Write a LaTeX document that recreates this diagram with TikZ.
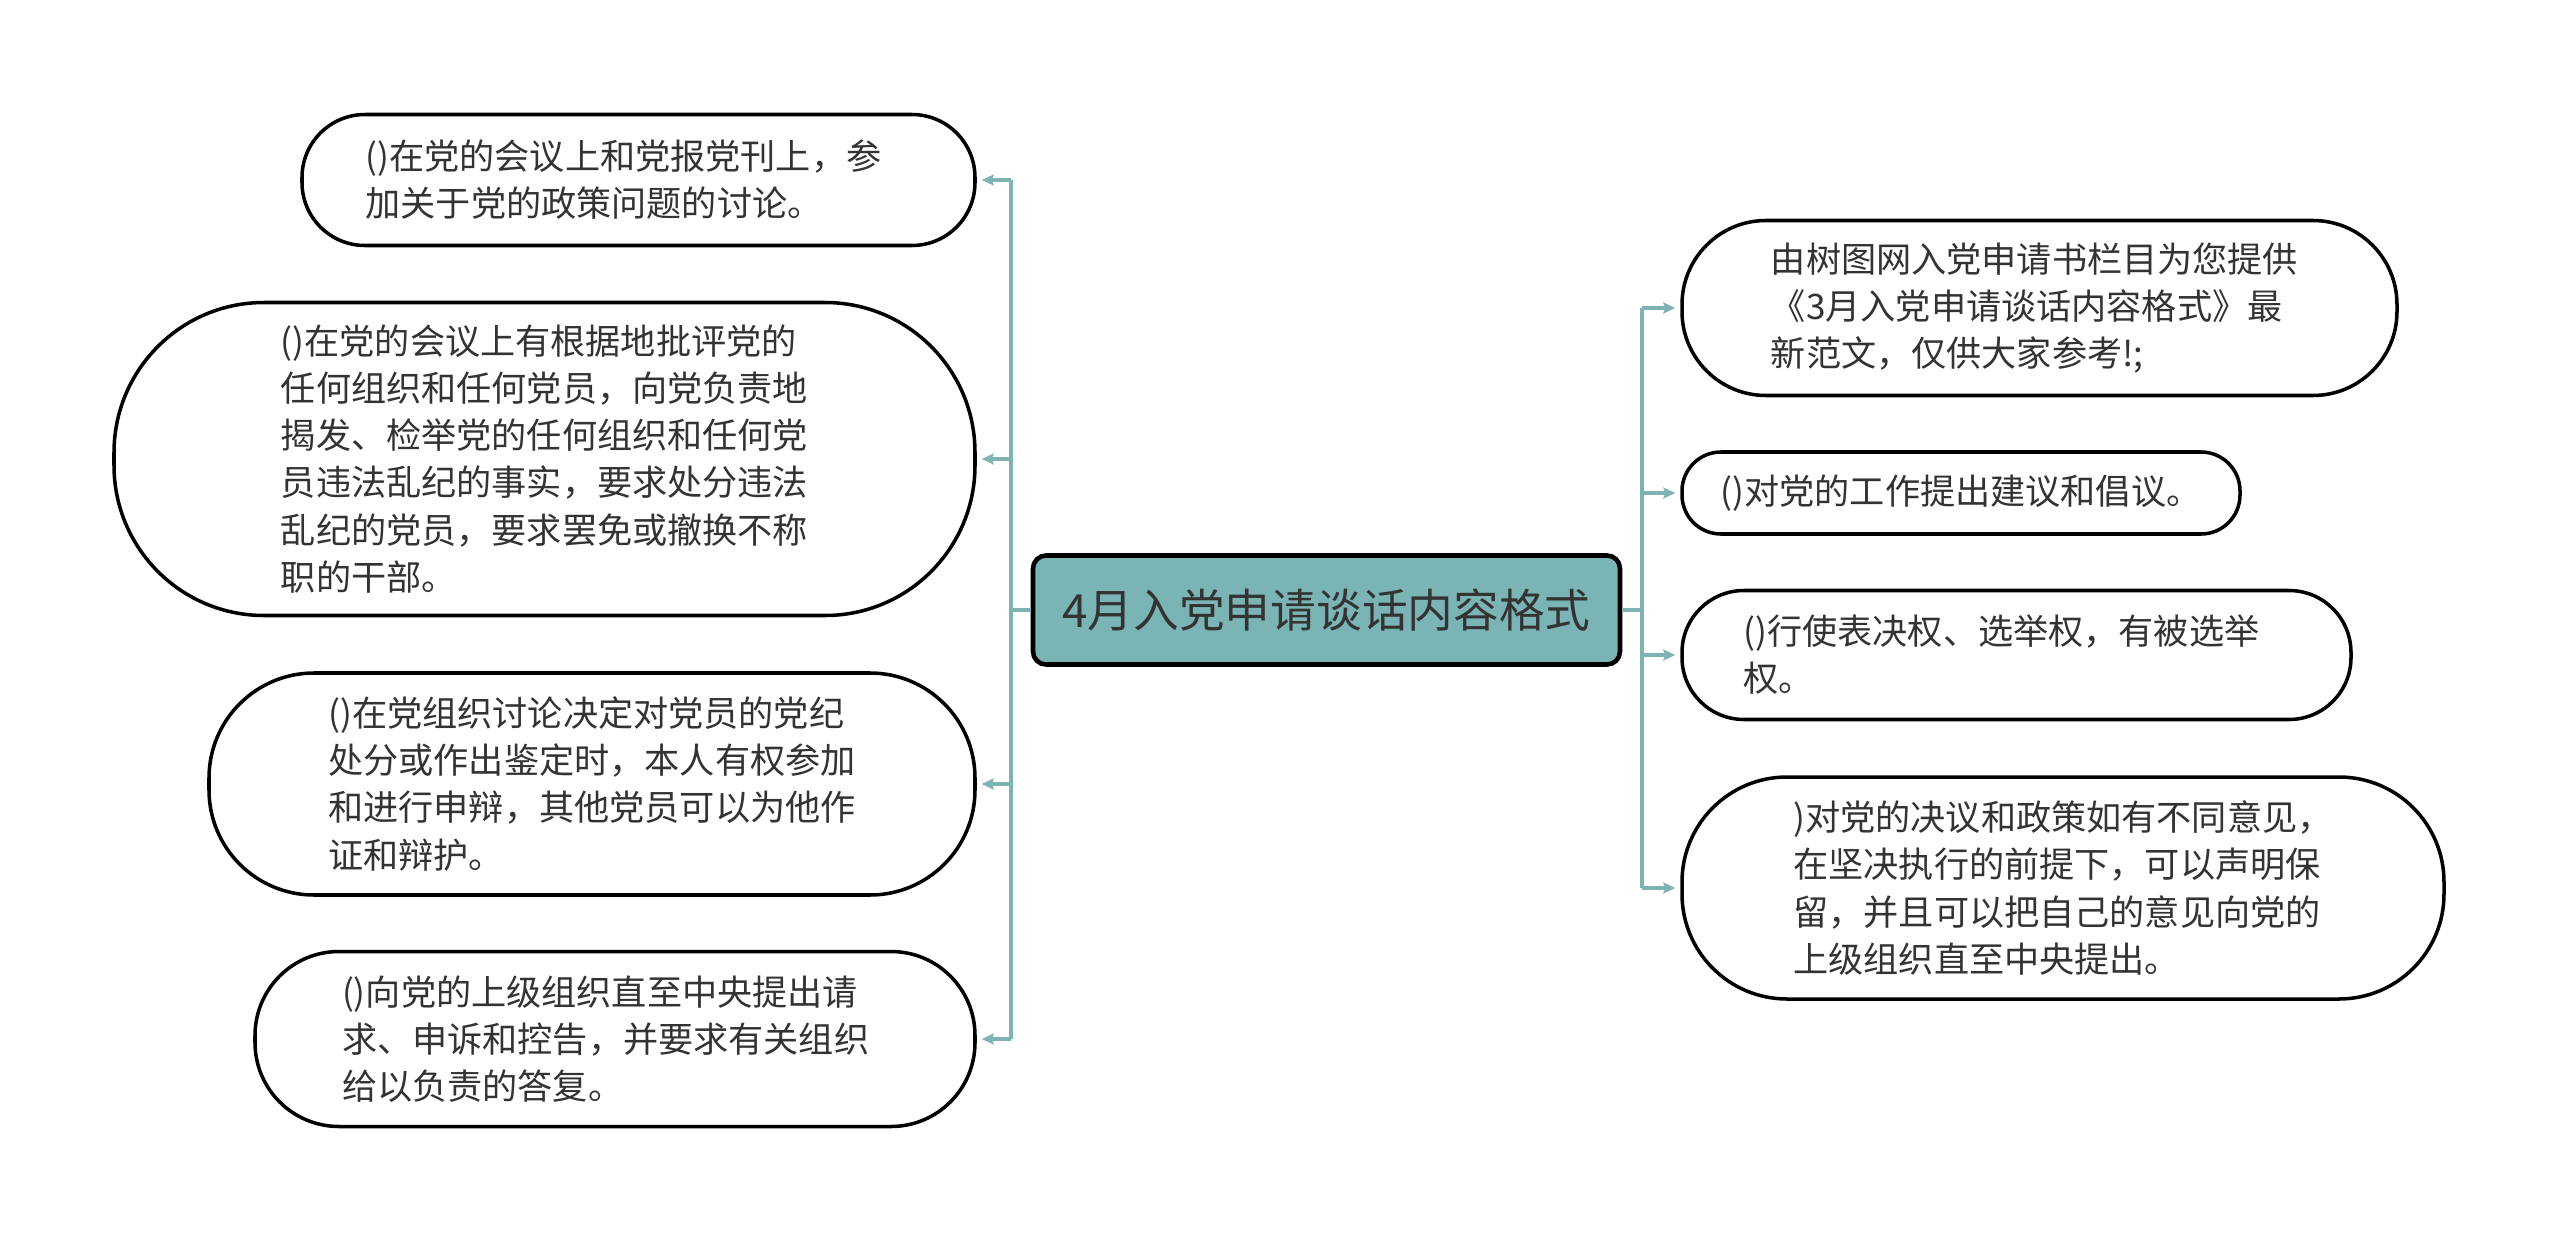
\documentclass[tikz,border=0pt]{standalone}
\usepackage{fontspec}
\newfontfamily\cjk{Noto Sans CJK SC}
\usepackage{tikz}
\usetikzlibrary{arrows.meta}
\definecolor{linkteal}{HTML}{7FB2B3}
\definecolor{topicfill}{HTML}{7AB4B5}
\definecolor{inktext}{HTML}{333333}

\begin{document}
\begin{tikzpicture}[x=0.1mm, y=-0.1mm,
    leaf/.style={draw=black, line width=1pt, fill=white, align=left, text=inktext,
        font=\cjk\fontsize{10pt}{13.4pt}\selectfont, inner sep=0pt},
    topic/.style={draw=black, line width=1.3pt, fill=topicfill, rounded corners=1.3mm,
        text=inktext, font=\cjk\fontsize{13pt}{15pt}\selectfont,
        minimum width=58.7mm, minimum height=10.9mm, inner sep=0pt},
    link/.style={draw=linkteal, line width=1.1pt},
    arrowlink/.style={link, -{Stealth[length=1.2mm,width=1.1mm,inset=0.2mm]}, shorten >=0.5mm}]
    \useasboundingbox (0,0) rectangle (2560,1243);

    % central topic
    \node[topic] (main) at (1326.5, 610) {4月入党申请谈话内容格式};
    \coordinate (trunkL) at (1011, 610);
    \coordinate (trunkR) at (1642, 610);

    % left side
    \node[leaf, minimum width=67.3mm, minimum height=13.1mm, rounded corners=6.3mm] (l1) at (638.5, 180)
        {()在党的会议上和党报党刊上，参\hspace*{3mm}\\加关于党的政策问题的讨论。};
    \node[leaf, minimum width=86.1mm, minimum height=31.3mm, rounded corners=15mm] (l2) at (544.5, 459)
        {()在党的会议上有根据地批评党的\\任何组织和任何党员，向党负责地\hspace*{1mm}\\揭发、检举党的任何组织和任何党\\员违法乱纪的事实，要求处分违法\\乱纪的党员，要求罢免或撤换不称\\职的干部。};
    \node[leaf, minimum width=76.6mm, minimum height=22.2mm, rounded corners=10.5mm] (l3) at (592, 784)
        {()在党组织讨论决定对党员的党纪\\处分或作出鉴定时，本人有权参加\hspace*{3mm}\\和进行申辩，其他党员可以为他作\\证和辩护。};
    \node[leaf, minimum width=72mm, minimum height=17.5mm, rounded corners=8.4mm] (l4) at (615, 1039)
        {()向党的上级组织直至中央提出请\hspace*{3mm}\\求、申诉和控告，并要求有关组织\\给以负责的答复。};

    % right side
    \node[leaf, minimum width=71.5mm, minimum height=17.5mm, rounded corners=8.4mm] (r1) at (2039.5, 308)
        {由树图网入党申请书栏目为您提供\hspace*{1mm}\\《3月入党申请谈话内容格式》最\\新范文，仅供大家参考!;};
    \node[leaf, minimum width=55.8mm, minimum height=8.2mm, rounded corners=3.9mm] (r2) at (1961, 493)
        {()对党的工作提出建议和倡议。};
    \node[leaf, minimum width=66.9mm, minimum height=12.9mm, rounded corners=6.2mm] (r3) at (2016.5, 655)
        {()行使表决权、选举权，有被选举\hspace*{3mm}\\权。};
    \node[leaf, minimum width=76.2mm, minimum height=22.2mm, rounded corners=10.5mm] (r4) at (2063, 888)
        {)对党的决议和政策如有不同意见，\\在坚决执行的前提下，可以声明保\\留，并且可以把自己的意见向党的\\上级组织直至中央提出。};

    % connectors
    \draw[link] (main.west) -- (trunkL);
    \draw[link] (trunkL |- l1.east) -- (trunkL |- l4.east);
    \foreach \n in {l1, l2, l3, l4}
        \draw[arrowlink] (trunkL |- \n.east) -- (\n.east);
    \draw[link] (main.east) -- (trunkR);
    \draw[link] (trunkR |- r1.west) -- (trunkR |- r4.west);
    \foreach \n in {r1, r2, r3, r4}
        \draw[arrowlink] (trunkR |- \n.west) -- (\n.west);
\end{tikzpicture}
\end{document}
